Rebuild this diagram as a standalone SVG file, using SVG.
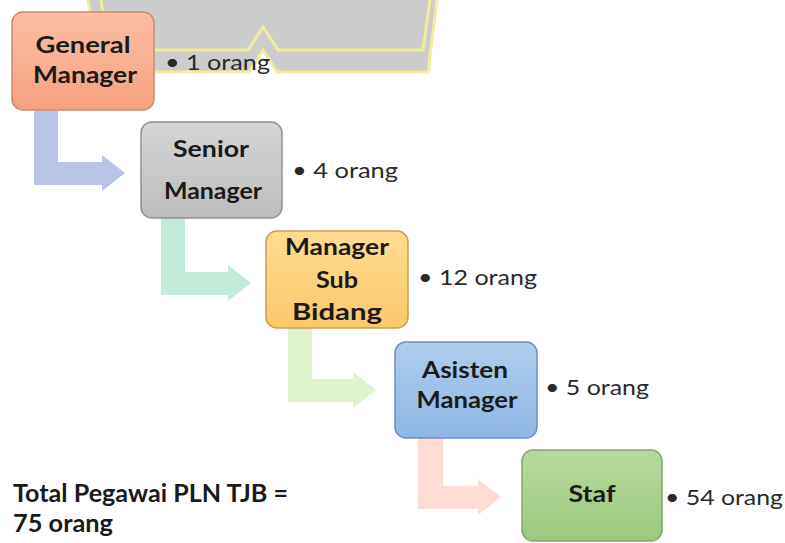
<svg xmlns="http://www.w3.org/2000/svg" width="785" height="543" viewBox="0 0 785 543">
<style>
.lbl{font-family:Lato,"Open Sans","Liberation Sans",sans-serif;font-weight:bold;font-size:23px;fill:#1a1a1a;text-anchor:middle}
.cnt{font-family:Lato,"Open Sans","Liberation Sans",sans-serif;font-size:22px;fill:#2a2a2a}
.tot{font-family:Lato,"Open Sans","Liberation Sans",sans-serif;font-weight:bold;font-size:24px;fill:#1a1a1a}
.box{stroke-width:1.5}
</style>
<defs>
<linearGradient id="gGM" x1="0" y1="0" x2="0" y2="1"><stop offset="0" stop-color="#fbbfa4"/><stop offset="1" stop-color="#f5a080"/></linearGradient>
<linearGradient id="gSM" x1="0" y1="0" x2="0" y2="1"><stop offset="0" stop-color="#d6d6d6"/><stop offset="1" stop-color="#bcbcbc"/></linearGradient>
<linearGradient id="gMS" x1="0" y1="0" x2="0" y2="1"><stop offset="0" stop-color="#ffdb92"/><stop offset="1" stop-color="#fbc96c"/></linearGradient>
<linearGradient id="gAM" x1="0" y1="0" x2="0" y2="1"><stop offset="0" stop-color="#afcdee"/><stop offset="1" stop-color="#8fb6e3"/></linearGradient>
<linearGradient id="gST" x1="0" y1="0" x2="0" y2="1"><stop offset="0" stop-color="#b6d99d"/><stop offset="1" stop-color="#9cc97f"/></linearGradient>
</defs>
<rect width="785" height="543" fill="#ffffff"/>
<g id="watermark">
<path d="M88,0 L437,0 L428,72 L277,72 L263,50 L249,72 L100,72 Z" fill="#cdcdcd"/>
<path d="M88,0 L100,72 L249,72 L263,50 L277,72 L428,72 L437,0" fill="none" stroke="#f3ec9c" stroke-width="3"/>
<path d="M101,0 L108,50 L248,50 L263,27 L278,50 L423,50 L430,0" fill="none" stroke="#f3ec9c" stroke-width="3"/>
</g>
<g id="connectors">
<path d="M34,110 L58,110 L58,162 L102,162 L102,155 L125,173 L102,191 L102,185 L34,185 Z" fill="#b9c5e6"/>
<path d="M161,218 L185,218 L185,272 L228,272 L228,265 L251,283 L228,301 L228,295 L161,295 Z" fill="#c2ecd9"/>
<path d="M288,328 L312,328 L312,379 L353,379 L353,372 L376,390 L353,408 L353,402 L288,402 Z" fill="#def2cb"/>
<path d="M418,438 L443,438 L443,486 L478,486 L478,479 L501,497 L478,515 L478,509 L418,509 Z" fill="#fcdcd3"/>
</g>
<g id="gm">
<rect class="box" x="12" y="12" width="142" height="98" rx="11" fill="url(#gGM)" stroke="#c98a70"/>
<text class="lbl" x="83" y="53" textLength="95" lengthAdjust="spacingAndGlyphs">General</text>
<text class="lbl" x="85" y="83" textLength="104" lengthAdjust="spacingAndGlyphs">Manager</text>
<text class="cnt" x="165" y="70" textLength="105" lengthAdjust="spacingAndGlyphs">• 1 orang</text>
</g>
<g id="sm">
<rect class="box" x="141" y="122" width="141" height="96" rx="11" fill="url(#gSM)" stroke="#939393"/>
<text class="lbl" x="211" y="157" textLength="76" lengthAdjust="spacingAndGlyphs">Senior</text>
<text class="lbl" x="213" y="199" textLength="98" lengthAdjust="spacingAndGlyphs">Manager</text>
<text class="cnt" x="292" y="178" textLength="106" lengthAdjust="spacingAndGlyphs">• 4 orang</text>
</g>
<g id="msb">
<rect class="box" x="266" y="231" width="142" height="97" rx="11" fill="url(#gMS)" stroke="#c9a050"/>
<text class="lbl" x="337" y="255" textLength="104" lengthAdjust="spacingAndGlyphs">Manager</text>
<text class="lbl" x="337" y="288" textLength="42" lengthAdjust="spacingAndGlyphs">Sub</text>
<text class="lbl" x="337" y="320" textLength="90" lengthAdjust="spacingAndGlyphs">Bidang</text>
<text class="cnt" x="418" y="285" textLength="119" lengthAdjust="spacingAndGlyphs">• 12 orang</text>
</g>
<g id="am">
<rect class="box" x="395" y="342" width="142" height="96" rx="11" fill="url(#gAM)" stroke="#6f8fb8"/>
<text class="lbl" x="465" y="378" textLength="86" lengthAdjust="spacingAndGlyphs">Asisten</text>
<text class="lbl" x="467" y="408" textLength="101" lengthAdjust="spacingAndGlyphs">Manager</text>
<text class="cnt" x="545" y="395" textLength="104" lengthAdjust="spacingAndGlyphs">• 5 orang</text>
</g>
<g id="staf">
<rect class="box" x="522" y="450" width="140" height="91" rx="11" fill="url(#gST)" stroke="#80a86a"/>
<text class="lbl" x="592" y="502" textLength="47" lengthAdjust="spacingAndGlyphs">Staf</text>
<text class="cnt" x="665" y="505" textLength="118" lengthAdjust="spacingAndGlyphs">• 54 orang</text>
</g>
<g id="total">
<text class="tot" x="13" y="502" textLength="275" lengthAdjust="spacingAndGlyphs">Total Pegawai PLN TJB =</text>
<text class="tot" x="13" y="532" textLength="100" lengthAdjust="spacingAndGlyphs">75 orang</text>
</g>
</svg>
